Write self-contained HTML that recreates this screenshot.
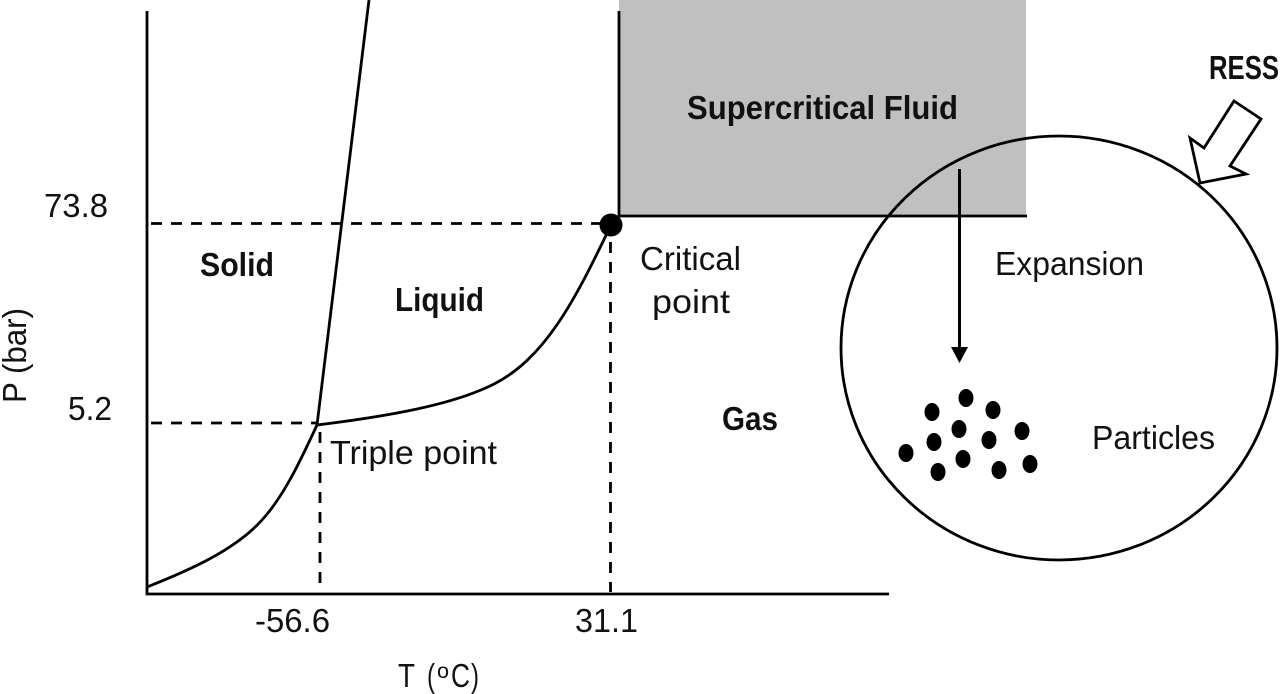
<!DOCTYPE html>
<html><head><meta charset="utf-8"><style>
html,body{margin:0;padding:0;background:#fff;width:1280px;height:694px;overflow:hidden}
svg{display:block}
text{font-family:"Liberation Sans",sans-serif;fill:#111;font-size:33px}
.b{font-weight:bold;font-size:33px}
</style></head><body>
<svg width="1280" height="694" viewBox="0 0 1280 694" xmlns="http://www.w3.org/2000/svg">
<rect x="619" y="0" width="407" height="216" fill="#c0c0c0"/>
<g fill="none" stroke="#000" stroke-width="2.8">
<path d="M147 11V594H889"/>
<path d="M619 11V216H1027"/>
<path d="M369 0L317 425"/>
<path d="M147 587C190 570 235 550 262 520C285 495 303 455 317 425"/>
<path d="M317 425C390 416 450 405 490 386C545 360 575 300 611 225"/>
<ellipse cx="1059" cy="348" rx="218" ry="212"/>
<path d="M1234 101L1261 119L1230 166L1246 174L1200 183L1190 138L1204 148Z" fill="#fff"/>
</g>
<g fill="none" stroke="#000" stroke-width="2.8" stroke-dasharray="11 9">
<path d="M151 223.500H600"/>
<path d="M151 423H316"/>
<path d="M320 432V592"/>
<path d="M610.500 242V592"/>
</g>
<circle cx="611" cy="225" r="11.500" fill="#000"/>
<path d="M959.500 169V350" stroke="#000" stroke-width="3" fill="none"/>
<path d="M951 347H968L959.500 363Z" fill="#000"/>
<g fill="#000">
<ellipse cx="966" cy="398" rx="7.500" ry="9"/>
<ellipse cx="932" cy="412" rx="7.500" ry="9"/>
<ellipse cx="993" cy="410" rx="7.500" ry="9"/>
<ellipse cx="959" cy="429" rx="7.500" ry="9"/>
<ellipse cx="934" cy="442" rx="7.500" ry="9"/>
<ellipse cx="989" cy="440" rx="7.500" ry="9"/>
<ellipse cx="1022" cy="431" rx="7.500" ry="9"/>
<ellipse cx="906" cy="453" rx="7.500" ry="9"/>
<ellipse cx="963" cy="459" rx="7.500" ry="9"/>
<ellipse cx="938" cy="472" rx="7.500" ry="9"/>
<ellipse cx="999" cy="470" rx="7.500" ry="9"/>
<ellipse cx="1030" cy="464" rx="7.500" ry="9"/>
</g>
<text class="b" x="687" y="119" textLength="271" lengthAdjust="spacingAndGlyphs">Supercritical Fluid</text>
<text class="b" x="200" y="276" textLength="74" lengthAdjust="spacingAndGlyphs">Solid</text>
<text class="b" x="395" y="311" textLength="89" lengthAdjust="spacingAndGlyphs">Liquid</text>
<text class="b" x="722" y="430" textLength="56" lengthAdjust="spacingAndGlyphs">Gas</text>
<text class="b" x="1209" y="79" textLength="70" lengthAdjust="spacingAndGlyphs">RESS</text>
<text x="640" y="270" textLength="101" lengthAdjust="spacingAndGlyphs">Critical</text>
<text x="652" y="313" textLength="78" lengthAdjust="spacingAndGlyphs">point</text>
<text x="330" y="464" textLength="167" lengthAdjust="spacingAndGlyphs">Triple point</text>
<text x="995" y="275" textLength="149" lengthAdjust="spacingAndGlyphs">Expansion</text>
<text x="1092" y="449" textLength="123" lengthAdjust="spacingAndGlyphs">Particles</text>
<text x="44" y="217" textLength="64" lengthAdjust="spacingAndGlyphs">73.8</text>
<text x="68" y="420" textLength="44" lengthAdjust="spacingAndGlyphs">5.2</text>
<text x="255" y="632" textLength="75" lengthAdjust="spacingAndGlyphs">-56.6</text>
<text x="575" y="632" textLength="63" lengthAdjust="spacingAndGlyphs">31.1</text>
<text x="398" y="687" textLength="17" lengthAdjust="spacingAndGlyphs">T</text>
<text x="427" y="687" textLength="8" lengthAdjust="spacingAndGlyphs">(</text>
<text x="437" y="678" textLength="12" lengthAdjust="spacingAndGlyphs" style="font-size:21px">o</text>
<text x="451" y="687" textLength="19" lengthAdjust="spacingAndGlyphs">C</text>
<text x="471" y="687" textLength="8" lengthAdjust="spacingAndGlyphs">)</text>
<text transform="translate(26 403) rotate(-90)" textLength="95" lengthAdjust="spacingAndGlyphs">P (bar)</text>
</svg>
</body></html>
